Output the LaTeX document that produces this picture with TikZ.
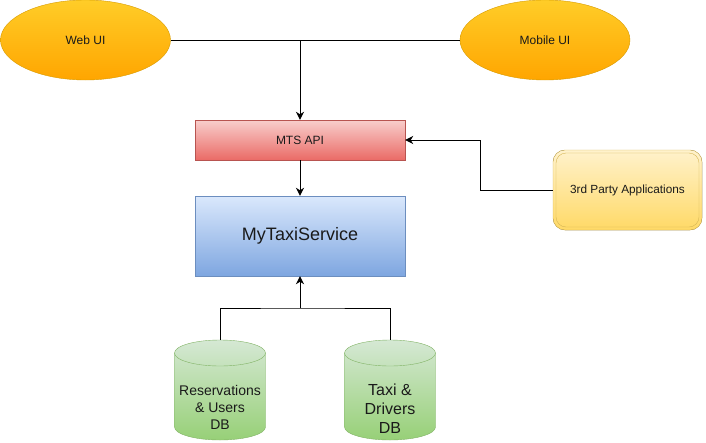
\documentclass[tikz,border=0pt]{standalone}
\usepackage{fontspec}
\setmainfont{Liberation Sans}
\usetikzlibrary{shapes.geometric,arrows.meta}
\definecolor{orTop}{HTML}{FFCD28}\definecolor{orBot}{HTML}{FFA500}\definecolor{orLine}{HTML}{D79B00}
\definecolor{rdTop}{HTML}{F8CECC}\definecolor{rdBot}{HTML}{EA6B66}\definecolor{rdLine}{HTML}{B85450}
\definecolor{blTop}{HTML}{DAE8FC}\definecolor{blBot}{HTML}{7EA6E0}\definecolor{blLine}{HTML}{6C8EBF}
\definecolor{ylTop}{HTML}{FFF2CC}\definecolor{ylBot}{HTML}{FFD966}\definecolor{ylLine}{HTML}{D6B656}
\definecolor{grTop}{HTML}{D5E8D4}\definecolor{grBot}{HTML}{97D077}\definecolor{grLine}{HTML}{82B366}
\definecolor{txt}{HTML}{1A1A1A}
\tikzset{
  uiell/.style={ellipse, draw=orLine, top color=orTop, bottom color=orBot, minimum width=170pt, minimum height=80pt, inner sep=0pt, font=\fontsize{12}{14}\selectfont, text=txt},
  apibox/.style={rectangle, draw=rdLine, top color=rdTop, bottom color=rdBot, minimum width=210pt, minimum height=40pt, inner sep=0pt, font=\fontsize{12}{14}\selectfont, text=txt},
  svcbox/.style={rectangle, draw=blLine, top color=blTop, bottom color=blBot, minimum width=210pt, minimum height=80pt, inner sep=0pt, font=\fontsize{18}{21}\selectfont, text=txt},
  lbl/.style={inner sep=0pt, align=center, text=txt},
  conn/.style={line width=1pt, black},
  arr/.style={conn, -{Stealth[length=8pt,width=8pt,inset=2.5pt]}},
}
\begin{document}
\begin{tikzpicture}[x=1pt,y=-1pt]
\useasboundingbox (0,0) rectangle (706,442);
% UIs
\node[uiell] (web) at (85.5,40) {Web UI};
\node[uiell] (mob) at (545,40) {Mobile UI};
% API and service
\node[apibox] (api) at (300,140) {MTS API};
\node[svcbox] (svc) at (300,236) {MyTaxiService};
% 3rd party (double rounded border)
\fill[top color=ylTop, bottom color=ylBot, rounded corners=12pt] (553,150) rectangle (702,230);
\draw[ylLine, rounded corners=12pt] (553,150) rectangle (702,230);
\draw[ylLine, rounded corners=10pt] (556,153) rectangle (699,227);
\node[lbl, font=\fontsize{11.8}{14}\selectfont, minimum width=149pt, minimum height=80pt] (tp) at (627.5,190) {3rd Party Applications};
% cylinders
\foreach \cx/\nm in {220/res,390/taxi}{
  \path[top color=grTop, bottom color=grBot] (\cx-45.5,353) -- (\cx-45.5,427) arc[start angle=180,end angle=0,x radius=45.5,y radius=13] -- (\cx+45.5,353) arc[start angle=360,end angle=180,x radius=45.5,y radius=13] -- cycle;
  \draw[grLine] (\cx-45.5,353) -- (\cx-45.5,427) arc[start angle=180,end angle=0,x radius=45.5,y radius=13] -- (\cx+45.5,353) arc[start angle=360,end angle=180,x radius=45.5,y radius=13] -- cycle;
  \draw[grLine] (\cx-45.5,353) arc[start angle=180,end angle=0,x radius=45.5,y radius=13];
  \coordinate (\nm top) at (\cx,340);
}
\node[lbl, font=\fontsize{14}{17}\selectfont] (reslbl) at (220,407) {Reservations\\\& Users\\DB};
\node[lbl, font=\fontsize{16}{19}\selectfont] (taxilbl) at (390,409) {Taxi \&\\Drivers\\DB};
% connectors
\coordinate (j1) at (300,40);
\draw[conn] (web.east) -- (mob.west);
\draw[arr] (j1) -- (api.north);
\draw[arr] (api.south) -- (svc.north);
\draw[arr] (tp.west) -- (480,190) |- (api.east);
\coordinate (j2) at (300,308);
\draw[conn] (restop) |- (j2) -| (taxitop);
\draw[arr] (j2) -- (svc.south);
\end{tikzpicture}
\end{document}
